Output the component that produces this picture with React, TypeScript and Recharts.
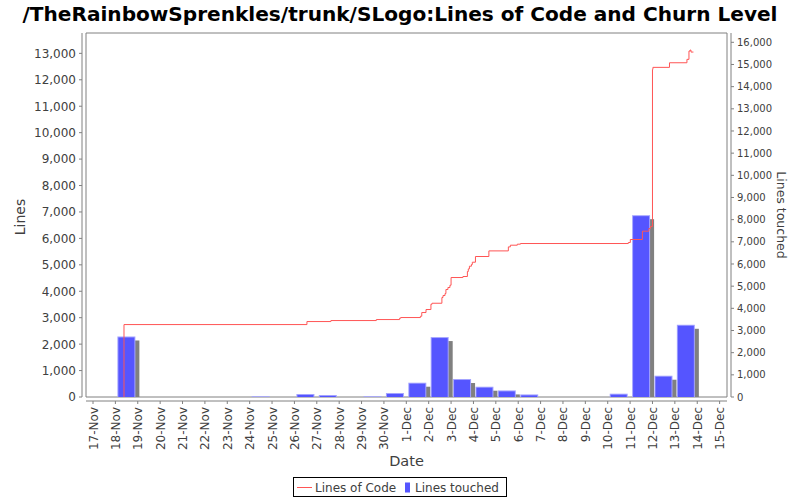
import React from 'react';
import { ComposedChart, Line, Bar, XAxis, YAxis, ReferenceArea, Label } from 'recharts';

const dayLabels = ['17-Nov','18-Nov','19-Nov','20-Nov','21-Nov','22-Nov','23-Nov','24-Nov','25-Nov','26-Nov','27-Nov','28-Nov','29-Nov','30-Nov','1-Dec','2-Dec','3-Dec','4-Dec','5-Dec','6-Dec','7-Dec','8-Dec','9-Dec','10-Dec','11-Dec','12-Dec','13-Dec','14-Dec','15-Dec'];
const leftTicks = [0,1000,2000,3000,4000,5000,6000,7000,8000,9000,10000,11000,12000,13000];
const rightTicks = [0,1000,2000,3000,4000,5000,6000,7000,8000,9000,10000,11000,12000,13000,14000,15000,16000];

const touchedDates = ['18-Nov','24-Nov','26-Nov','27-Nov','29-Nov','30-Nov','1-Dec','2-Dec','3-Dec','4-Dec','5-Dec','6-Dec','10-Dec','11-Dec','12-Dec','13-Dec'];
const touchedValues = [2730,20,135,90,20,180,645,2704,811,464,297,117,149,8202,960,3258];

// time in days since 17-Nov 00:00
const locDays = [1.385,1.385,9.56,10.63,12.66,13.70,13.75,14.63,14.69,14.88,15.10,15.15,15.59,15.64,15.73,15.77,15.86,15.95,16.00,16.53,16.73,16.77,16.82,16.91,16.95,17.09,17.69,18.56,18.65,18.96,19.10,23.92,24.01,24.55,24.84,24.91,25.00,25.02,25.76,26.54,26.63,26.68,26.72,26.83];
const locValues = [0,2740,2854,2892,2930,2980,3006,3055,3195,3309,3509,3547,3763,3839,3914,4066,4142,4229,4520,4558,4747,4846,4948,5012,5099,5315,5527,5679,5743,5781,5806,5844,5958,6273,6375,6450,12394,12470,12644,12773,13087,13125,13049,13049];

const barData = touchedDates.map((d, i) => ({ x: dayLabels.indexOf(d) + 0.5, touched: touchedValues[i] }));
const locData = locDays.map((d, i) => ({ t: d, loc: locValues[i] }));
const dayTicks = dayLabels.map((_, i) => i);

const X_DOMAIN: [number, number] = [-0.313, 28.33];
const LEFT_MAX = 13770;
const RIGHT_MAX = 16420;
const FONT = '"DejaVu Sans", sans-serif';
const AXIS = '#808080';
const TXT = '#404040';
const fmt = (v: number) => v.toLocaleString('en-US');

const DateTick = (p: any) => {
  const { x, y, payload } = p;
  const ax = x + 4.5;
  const ay = y + 10;
  return (
    <g>
      <line x1={x} x2={x} y1={y + 4} y2={y + 7} stroke={AXIS} />
      <text x={ax} y={ay} transform={`rotate(-90 ${ax} ${ay})`} textAnchor="end" fontSize={12} fill={TXT} fontFamily={FONT}>
        {dayLabels[payload.value]}
      </text>
    </g>
  );
};

const LeftTick = (p: any) => {
  const { x, y, payload } = p;
  return (
    <g>
      <line x1={x - 4} x2={x - 7} y1={y} y2={y} stroke={AXIS} />
      <text x={x - 10} y={y + 4.4} textAnchor="end" fontSize={12} fill={TXT} fontFamily={FONT}>{fmt(payload.value)}</text>
    </g>
  );
};

const RightTick = (p: any) => {
  const { x, y, payload } = p;
  return (
    <g>
      <line x1={x + 4} x2={x + 7} y1={y} y2={y} stroke={AXIS} />
      <text x={x + 10} y={y + 3.6} textAnchor="start" fontSize={10} fill={TXT} fontFamily={FONT}>{fmt(payload.value)}</text>
    </g>
  );
};

const ShadowBar = (p: any) => {
  const { x, y, width, height } = p;
  if (x == null || y == null || !width || height == null) return null;
  const h = Math.max(height, 0.8);
  const yy = y + height - h;
  return (
    <g>
      <rect x={x + 4} y={yy + 4} width={width} height={Math.max(0, h - 4)} fill="#808080" />
      <rect x={x} y={yy} width={width} height={h} fill="#a3a3ff" />
      <rect x={x + 1} y={yy + 1} width={Math.max(0, width - 2)} height={Math.max(0.8, h - 1)} fill="#5555ff" />
    </g>
  );
};

export default function App() {
  return (
    <div style={{ position: 'absolute', left: 0, top: 0, width: 800, height: 500, background: '#fff' }}>
      <ComposedChart width={800} height={500} data={barData} margin={{ top: 33, right: 0, bottom: 0, left: 0 }}>
        <XAxis
          xAxisId="b"
          type="number"
          dataKey="x"
          domain={X_DOMAIN}
          allowDataOverflow
          ticks={dayTicks}
          interval={0}
          height={103}
          tick={<DateTick />}
          tickLine={false}
          tickSize={0}
          tickMargin={0}
          axisLine={{ stroke: AXIS, transform: 'translate(0,4)' } as any}
        >
          <Label
            content={(props: any) => {
              const vb = props.viewBox || { x: 86, y: 397, width: 641 };
              return (
                <text x={vb.x + vb.width / 2} y={vb.y + 69} textAnchor="middle" fontSize={14.5} fill={TXT} fontFamily={FONT}>Date</text>
              );
            }}
          />
        </XAxis>
        <XAxis xAxisId="l" type="number" dataKey="t" domain={X_DOMAIN} allowDataOverflow hide />
        <YAxis
          yAxisId="left"
          width={86}
          domain={[0, LEFT_MAX]}
          allowDataOverflow
          ticks={leftTicks}
          interval={0}
          tick={<LeftTick />}
          tickLine={false}
          tickSize={0}
          tickMargin={0}
          axisLine={{ stroke: AXIS, transform: 'translate(-4,0)' } as any}
        >
          <Label
            content={() => (
              <text x={25} y={217} transform="rotate(-90 25 217)" textAnchor="middle" fontSize={14} fill={TXT} fontFamily={FONT}>Lines</text>
            )}
          />
        </YAxis>
        <YAxis
          yAxisId="right"
          orientation="right"
          width={73}
          domain={[0, RIGHT_MAX]}
          allowDataOverflow
          ticks={rightTicks}
          interval={0}
          tick={<RightTick />}
          tickLine={false}
          tickSize={0}
          tickMargin={0}
          axisLine={{ stroke: AXIS, transform: 'translate(4,0)' } as any}
        >
          <Label
            content={() => (
              <text x={777} y={215} transform="rotate(90 777 215)" textAnchor="middle" fontSize={12.5} fill={TXT} fontFamily={FONT}>Lines touched</text>
            )}
          />
        </YAxis>
        <ReferenceArea xAxisId="b" yAxisId="left" x1={X_DOMAIN[0]} x2={X_DOMAIN[1]} y1={0} y2={LEFT_MAX} fill="none" stroke={AXIS} strokeWidth={1} ifOverflow="visible" />
        <Bar xAxisId="b" yAxisId="right" dataKey="touched" barSize={18} shape={<ShadowBar />} isAnimationActive={false} />
        <Line xAxisId="l" yAxisId="left" data={locData} dataKey="loc" type="stepAfter" stroke="#ff5555" strokeWidth={1} dot={false} activeDot={false} isAnimationActive={false} />
      </ComposedChart>
      <svg width={800} height={500} style={{ position: 'absolute', left: 0, top: 0, pointerEvents: 'none' }}>
        <text x={400} y={21} textAnchor="middle" fontSize={20} fontWeight="bold" fill="#000" fontFamily='"DejaVu Sans Condensed", "DejaVu Sans", sans-serif' textLength={755} lengthAdjust="spacingAndGlyphs">
          /TheRainbowSprenkles/trunk/SLogo:Lines of Code and Churn Level
        </text>
        <rect x={293.5} y={477.5} width={213} height={19} fill="#fff" stroke="#000" strokeWidth={1} />
        <line x1={297} x2={312} y1={487.5} y2={487.5} stroke="#ff5555" strokeWidth={1} />
        <text x={315} y={491.5} fontSize={12} fill={TXT} fontFamily={FONT}>Lines of Code</text>
        <rect x={405} y={482.5} width={5} height={10} fill="#5555ff" />
        <text x={415} y={491.5} fontSize={12} fill={TXT} fontFamily={FONT}>Lines touched</text>
      </svg>
    </div>
  );
}
